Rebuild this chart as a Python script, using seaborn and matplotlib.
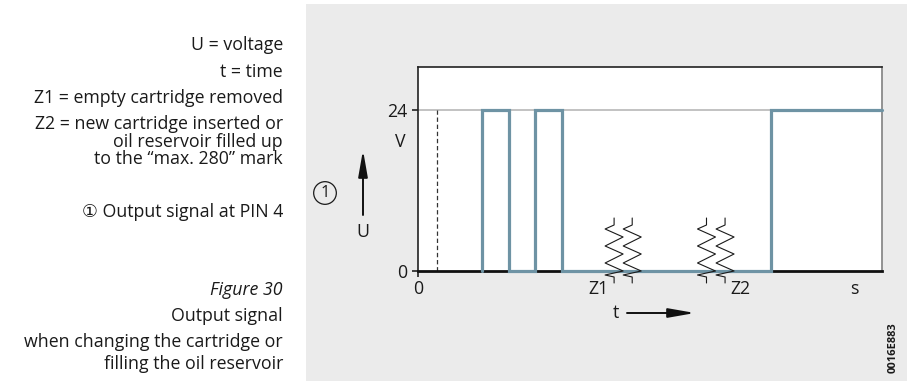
import matplotlib
matplotlib.use("Agg")
import matplotlib.pyplot as plt
import seaborn as sns
import pandas as pd
from matplotlib.patches import Rectangle

# Output signal at PIN 4: switching instants (time units) and the level after each switch
switch_times = [13.8, 19.6, 25.3, 31.0, 76.2]
switch_levels = [24, 0, 24, 0, 24]
t_end = 100.0
supply_voltage = 24
power_on_time = 4.2                    # dashed reference line
z1_breaks = [42.3, 46.2]               # time breaks while the cartridge is removed
z2_breaks = [62.2, 66.2]               # time breaks while the reservoir is refilled
x_tick_positions = [0, 38.9, 69.6, 94.0]
x_tick_labels = ["0", "Z1", "Z2", "s"]
y_ticks = [0, 24]
y_tick_labels = ["0", "24"]

legend_lines = ["U = voltage", "t = time", "Z1 = empty cartridge removed",
                "Z2 = new cartridge inserted or", "oil reservoir filled up",
                "to the \u201cmax. 280\u201d mark"]
legend_y = [45, 72, 98, 124, 142, 159]
callout_text = "\u2460 Output signal at PIN 4"
caption_title = "Figure 30"
caption_lines = ["Output signal", "when changing the cartridge or",
                 "filling the oil reservoir"]
caption_y = [316, 342, 364]
drawing_id = "0016E883"

sns.set_theme(style="white")
FONT = ["Open Sans", "DejaVu Sans", "Noto Sans CJK JP"]
plt.rcParams["font.family"] = FONT
plt.rcParams["text.color"] = "#1a1a1a"

W, H = 910, 387
TXT = 12.8
fig = plt.figure(figsize=(W / 100, H / 100), dpi=100)
fig.patch.set_facecolor("white")


def fx(x):
    return x / W


def fy(y):
    return 1 - y / H


# grey panel behind the diagram
fig.add_artist(Rectangle((fx(306), fy(381)), fx(907 - 306), (381 - 4) / H,
                         transform=fig.transFigure, facecolor="#ebebeb",
                         edgecolor="none", zorder=-10))

# explanatory text on the left
for line, y in zip(legend_lines, legend_y):
    fig.text(fx(283), fy(y), line, ha="right", va="center", fontsize=TXT)
fig.text(fx(283), fy(212), callout_text, ha="right", va="center", fontsize=TXT)
fig.text(fx(283), fy(290), caption_title, ha="right", va="center",
         fontsize=TXT, style="italic")
for line, y in zip(caption_lines, caption_y):
    fig.text(fx(283), fy(y), line, ha="right", va="center", fontsize=TXT)

# diagram axes
ax = fig.add_axes([fx(417.7), fy(270.7), fx(882 - 417.7), (270.7 - 67) / H])
ax.set_facecolor("white")

t_vals = [switch_times[0]] + switch_times + [t_end]
u_vals = [0] + switch_levels + [switch_levels[-1]]
signal = pd.DataFrame({"t": t_vals, "U": u_vals})

ax.axhline(supply_voltage, color="#c2c2c2", lw=1.4, zorder=1)
ax.plot([power_on_time, power_on_time], [0, supply_voltage], color="#333333",
        lw=0.9, ls=(0, (3.5, 2.2)), zorder=2)
sns.lineplot(data=signal, x="t", y="U", ax=ax, sort=False, estimator=None,
             drawstyle="steps-post", color="#6e93a4", lw=2.3,
             solid_joinstyle="miter", zorder=4, clip_on=False)

ax.set_xlim(0, t_end)
ax.set_ylim(0, 30.33)
ax.set_xlabel("")
ax.set_ylabel("")

# break marks on the time axis
px_x = (882 - 417.7) / t_end
px_y = (270.7 - 67) / 30.33
zig = [(0, 0), (0, 7), (-9, 11), (9, 19), (-9, 28), (9, 36), (-9, 45),
       (9, 53), (-9, 57), (0, 59), (0, 65)]
for tb in z1_breaks + z2_breaks:
    xs = [tb + dx / px_x for dx, _ in zig]
    ys = [(270.7 - (218 + dy)) / px_y for _, dy in zig]
    ax.plot(xs, ys, color="#1a1a1a", lw=0.8, clip_on=False, zorder=5)

ax.set_xticks(x_tick_positions, x_tick_labels)
ax.set_yticks(y_ticks, y_tick_labels)
ax.tick_params(axis="both", labelsize=TXT, length=4.5, width=1.2,
               color="#222222", pad=3, labelcolor="#1a1a1a")
ax.tick_params(axis="x", pad=2.5, bottom=True)
ax.tick_params(axis="y", left=True)
for tk in ax.xaxis.get_major_ticks()[1:]:
    tk.tick1line.set_visible(False)

for side in ["left", "top"]:
    ax.spines[side].set_color("#222222")
    ax.spines[side].set_linewidth(1.2)
ax.spines["bottom"].set_color("#111111")
ax.spines["bottom"].set_linewidth(2.0)
ax.spines["right"].set_color("#8a8a8a")
ax.spines["right"].set_linewidth(1.3)
ax.grid(False)

# axis captions and direction arrows
fig.text(fx(400), fy(142), "V", ha="center", va="center", fontsize=TXT)
fig.text(fx(363), fy(232), "U", ha="center", va="center", fontsize=TXT)
fig.text(fx(616), fy(313), "t", ha="center", va="center", fontsize=TXT)
arrow = dict(arrowstyle="-|>,head_length=1.6,head_width=0.28", lw=1.4,
             color="#111111", mutation_scale=10, shrinkA=0, shrinkB=0)
fig.add_artist(plt.Annotation("", xy=(363, H - 150), xytext=(363, H - 215),
                              xycoords="figure pixels", textcoords="figure pixels",
                              arrowprops=arrow))
fig.add_artist(plt.Annotation("", xy=(695, H - 313), xytext=(627, H - 313),
                              xycoords="figure pixels", textcoords="figure pixels",
                              arrowprops=arrow))
fig.text(fx(325), fy(193), "1", ha="center", va="center", fontsize=12,
         bbox=dict(boxstyle="circle,pad=0.2", facecolor="none",
                   edgecolor="#1a1a1a", lw=0.9))

fig.text(fx(893), fy(348), drawing_id, rotation=90, ha="center", va="center",
         fontsize=8, fontweight="bold")

fig.savefig("out.png", dpi=100)
